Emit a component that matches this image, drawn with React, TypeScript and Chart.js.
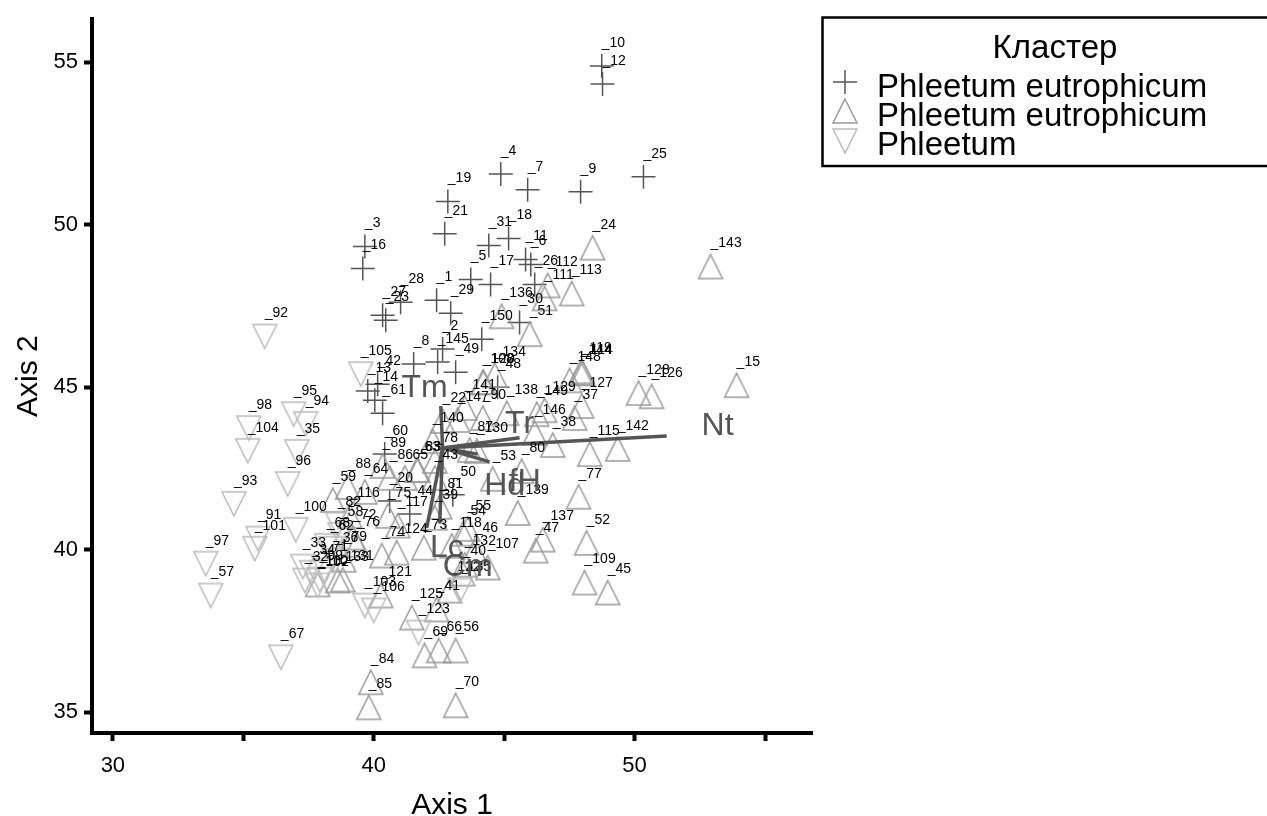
import React, { useEffect, useRef } from "react";
import { Chart, registerables } from "chart.js";

Chart.register(...registerables);

const legendTitle = "Кластер";
const seriesNames = ["Phleetum eutrophicum", "Phleetum eutrophicum", "Phleetum"];
const xTickLabels = [30, 40, 50];
const axisTitles = ["Axis 1", "Axis 2"];

const plusIds = [1,2,3,4,5,6,7,8,9,10,11,12,13,14,16,17,18,19,20,21,23,25,26,27,28,29,30,31,42,44,48,49,50,60,61,145,150];
const plusX = [42.41,42.64,39.66,44.87,43.72,46.02,45.90,41.53,47.93,48.74,45.82,48.77,39.77,40.04,39.58,44.48,45.17,42.84,40.61,42.72,40.46,50.34,46.17,40.34,41.03,42.95,45.59,44.41,40.15,41.38,44.75,43.14,43.03,40.42,40.34,42.45,44.14];
const plusY = [47.67,46.17,49.33,51.56,48.31,48.77,51.07,45.71,51.01,54.88,48.93,54.33,44.88,44.60,48.65,48.16,49.57,50.71,41.50,49.72,47.06,51.47,48.16,47.21,47.61,47.27,46.99,49.36,45.09,41.10,45.00,45.46,41.69,42.94,44.20,45.77,46.47];

const upIds = [15,22,24,37,38,39,40,41,43,45,46,47,51,52,53,54,55,56,59,63,64,65,66,69,70,72,73,74,75,76,77,78,79,80,81,83,84,85,86,87,88,89,90,107,108,109,110,111,112,113,114,115,116,117,118,119,120,121,122,124,125,126,127,128,129,130,131,132,133,134,136,137,138,139,140,141,142,143,144,146,147,148,149];
const upX = [53.91,42.64,48.39,47.70,46.86,42.34,43.41,42.41,42.34,48.97,43.87,46.21,45.98,48.16,44.56,43.41,43.60,43.14,38.43,41.65,39.66,41.19,42.49,41.95,43.14,39.20,41.92,40.31,40.54,39.35,47.85,42.34,38.85,45.67,42.53,41.69,39.89,39.81,40.61,43.68,39.00,40.34,44.18,44.37,44.18,48.08,37.85,46.55,46.67,47.59,48.01,48.28,39.08,40.92,42.99,47.97,44.21,40.27,42.91,40.88,41.46,50.65,47.97,50.15,46.55,43.95,38.81,43.49,38.62,44.64,44.90,46.48,45.10,45.52,42.26,43.49,49.35,52.91,47.93,46.17,43.22,47.51,46.25];
const upY = [45.06,43.96,49.29,44.05,43.22,40.98,39.26,38.16,42.21,38.68,39.97,39.97,46.63,40.21,42.18,40.49,40.64,36.90,41.53,42.45,41.78,42.21,36.90,36.75,35.21,40.37,40.06,39.82,41.04,40.15,41.63,42.73,39.69,42.42,41.32,42.45,35.92,35.15,42.21,43.07,41.93,42.58,44.05,39.45,45.15,38.99,38.93,47.73,48.13,47.88,45.43,42.94,41.04,40.74,40.12,45.49,45.15,38.59,38.74,39.91,37.91,44.72,44.42,44.82,44.29,43.04,39.08,39.54,39.05,45.37,47.18,40.31,44.20,41.13,43.34,44.36,43.10,48.71,45.43,43.59,43.99,45.21,44.17];

const downIds = [32,33,34,35,36,57,58,62,67,68,71,82,91,92,93,94,95,96,97,98,99,100,101,102,103,104,105,106,123,135];
const downX = [37.36,37.28,37.62,37.05,38.51,33.75,38.70,38.35,36.44,38.20,38.12,38.62,35.56,35.82,34.64,37.39,36.93,36.70,33.56,35.21,37.93,37.01,35.44,37.85,39.66,35.17,39.50,40.00,41.72,43.30];
const downY = [39.05,39.48,39.29,43.01,39.66,38.59,40.46,40.03,36.69,40.12,39.36,40.77,40.34,46.56,41.41,43.87,44.17,42.02,39.57,43.74,39.08,40.61,40.03,38.90,38.28,43.04,45.40,38.13,37.45,38.74];

const vectorNames = ["Nt", "Tr", "Tm", "fH", "Hd", "Lc", "Cm"];
const vectorOrigin = [42.64, 43.13];
const vectorEndX = [51.23, 45.59, 42.57, 44.44, 43.98, 42.03, 42.53];
const vectorEndY = [43.50, 43.44, 44.42, 42.70, 42.94, 40.67, 40.80];
const vectorLabelX = [53.18, 45.59, 41.95, 45.79, 45.02, 42.80, 43.60];
const vectorLabelY = [43.80, 43.87, 44.97, 42.09, 41.96, 40.06, 39.45];

const FONT = '"Liberation Sans", Arial, sans-serif';
const PLUS = "#555555";
const UP = "#999999";
const DOWN = "#bbbbbb";
const VEC = "#555555";

function triangleImage(color: string, down: boolean) {
  const c = document.createElement("canvas");
  c.width = 28;
  c.height = 28;
  const g = c.getContext("2d")!;
  g.strokeStyle = color;
  g.lineWidth = 1.5;
  g.beginPath();
  if (down) {
    g.moveTo(2, 2);
    g.lineTo(26, 2);
    g.lineTo(14, 26);
  } else {
    g.moveTo(14, 2);
    g.lineTo(26, 26);
    g.lineTo(2, 26);
  }
  g.closePath();
  g.stroke();
  return c;
}

function points(ids: number[], xs: number[], ys: number[]) {
  return ids.map((id, i) => ({ x: xs[i], y: ys[i], id }));
}

export default function App() {
  const ref = useRef<HTMLCanvasElement>(null);
  useEffect(() => {
    const upImg = triangleImage(UP, false);
    const downImg = triangleImage(DOWN, true);

    const overlay = {
      id: "overlay",
      afterDatasetsDraw(chart: any) {
        const ctx = chart.ctx;
        const sx = chart.scales.x;
        const sy = chart.scales.y;
        ctx.save();
        ctx.fillStyle = "#000";
        ctx.font = `14px ${FONT}`;
        ctx.textAlign = "left";
        ctx.textBaseline = "middle";
        chart.data.datasets.forEach((ds: any) => {
          if (!ds.isSeries) return;
          ds.data.forEach((p: any) => {
            ctx.fillText(`_${p.id}`, sx.getPixelForValue(p.x), sy.getPixelForValue(p.y) - 23);
          });
        });
        ctx.fillStyle = VEC;
        ctx.font = `32px ${FONT}`;
        ctx.textAlign = "center";
        vectorNames.forEach((n, i) => {
          ctx.fillText(n, sx.getPixelForValue(vectorLabelX[i]), sy.getPixelForValue(vectorLabelY[i]));
        });

        // legend
        ctx.strokeStyle = "#000";
        ctx.lineWidth = 2.5;
        ctx.strokeRect(822.5, 17.5, 460, 148.5);
        ctx.fillStyle = "#000";
        ctx.textAlign = "center";
        ctx.font = `33px ${FONT}`;
        ctx.fillText(legendTitle, 1055, 49);
        ctx.textAlign = "left";
        const rows = [88, 117, 146];
        seriesNames.forEach((n, i) => ctx.fillText(n, 877, rows[i]));
        ctx.strokeStyle = PLUS;
        ctx.lineWidth = 1.5;
        ctx.beginPath();
        ctx.moveTo(833, 82);
        ctx.lineTo(857, 82);
        ctx.moveTo(845, 70);
        ctx.lineTo(845, 94);
        ctx.stroke();
        ctx.drawImage(upImg, 831, 97);
        ctx.drawImage(downImg, 831, 127);
        ctx.restore();
      },
    };

    const vectorSets = vectorNames.map((n, i) => ({
      label: n,
      type: "line",
      showLine: true,
      data: [
        { x: vectorOrigin[0], y: vectorOrigin[1] },
        { x: vectorEndX[i], y: vectorEndY[i] },
      ],
      borderColor: VEC,
      borderWidth: 3.5,
      pointRadius: 0,
      fill: false,
      order: 0,
    }));

    const chart = new Chart(ref.current!, {
      type: "scatter",
      data: {
        datasets: [
          ...vectorSets,
          {
            label: seriesNames[0],
            isSeries: true,
            data: points(plusIds, plusX, plusY),
            pointStyle: "cross",
            pointRadius: 12,
            pointBorderColor: PLUS,
            pointBorderWidth: 1.5,
            order: 3,
          },
          {
            label: seriesNames[1],
            isSeries: true,
            data: points(upIds, upX, upY),
            pointStyle: upImg,
            pointRadius: 14,
            order: 2,
          },
          {
            label: seriesNames[2],
            isSeries: true,
            data: points(downIds, downX, downY),
            pointStyle: downImg,
            pointRadius: 14,
            order: 1,
          },
        ] as any,
      },
      options: {
        animation: false,
        responsive: false,
        layout: { padding: { top: 17, right: 455, left: 0, bottom: 0 } },
        plugins: { legend: { display: false }, tooltip: { enabled: false }, title: { display: false } },
        scales: {
          x: {
            type: "linear",
            min: 29.2,
            max: 56.8,
            afterFit(scale: any) {
              scale.height = 83;
            },
            border: { display: true, width: 4, color: "#000" },
            grid: { drawOnChartArea: false, drawTicks: true, tickLength: 8, tickWidth: 4, tickColor: "#000" },
            ticks: {
              stepSize: 5,
              includeBounds: false,
              autoSkip: false,
              maxRotation: 0,
              padding: 12,
              color: "#000",
              font: { family: FONT, size: 22 },
              callback: (v: any) => (xTickLabels.includes(v) ? String(v) : ""),
            },
            title: {
              display: true,
              text: axisTitles[0],
              color: "#000",
              font: { family: FONT, size: 30 },
              padding: { top: 0, bottom: -8 },
            },
          },
          y: {
            type: "linear",
            min: 34.36,
            max: 56.32,
            afterFit(scale: any) {
              scale.width = 92;
            },
            border: { display: true, width: 4, color: "#000" },
            grid: { drawOnChartArea: false, drawTicks: true, tickLength: 8, tickWidth: 4, tickColor: "#000" },
            ticks: {
              stepSize: 5,
              includeBounds: false,
              autoSkip: false,
              padding: 6,
              color: "#000",
              font: { family: FONT, size: 22 },
            },
            title: {
              display: true,
              text: axisTitles[1],
              color: "#000",
              font: { family: FONT, size: 30 },
              padding: { top: 11, bottom: 0 },
            },
          },
        },
      },
      plugins: [overlay],
    } as any);
    return () => chart.destroy();
  }, []);
  return (
    <canvas
      ref={ref}
      width={1267}
      height={816}
      style={{ display: "block", position: "absolute", left: 0, top: 0, width: 1267, height: 816 }}
    />
  );
}
